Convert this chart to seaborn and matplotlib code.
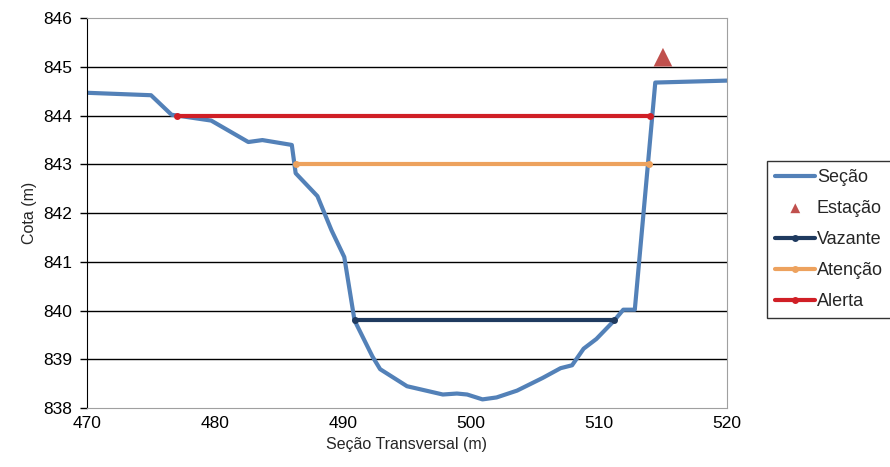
import numpy as np
import pandas as pd
import matplotlib
matplotlib.use("Agg")
import matplotlib.pyplot as plt
import seaborn as sns

# Perfil da seção transversal
secao_x = [470, 475, 476.6, 479.7, 482.6, 483.7, 486.0, 486.3, 488.0, 489.1, 490.1,
           490.9, 492.3, 492.9, 495.0, 497.8, 498.9, 499.7, 500.9, 502.0, 503.6,
           505.6, 507.0, 507.9, 508.8, 509.8, 511.2, 511.9, 512.8, 514.4, 520]
secao_y = [844.47, 844.42, 844.02, 843.9, 843.46, 843.5, 843.4, 842.82, 842.35, 841.65, 841.1,
           839.8, 839.06, 838.8, 838.45, 838.28, 838.3, 838.28, 838.18, 838.22, 838.36,
           838.62, 838.82, 838.88, 839.22, 839.42, 839.8, 840.02, 840.02, 844.68, 844.72]

estacao_x = [515]
estacao_y = [845.2]

vazante_x = [490.9, 511.2]
vazante_y = [839.8, 839.8]
atencao_x = [486.3, 513.9]
atencao_y = [843.0, 843.0]
alerta_x = [477.0, 514.0]
alerta_y = [844.0, 844.0]

sns.set_style("white")
plt.rcParams['font.family'] = ['Liberation Sans', 'DejaVu Sans']

fig = plt.figure(figsize=(8.9, 4.67), dpi=100)
ax = fig.add_axes([0.0978, 0.126, 0.719, 0.835])

for v in range(839, 846):
    ax.axhline(v, color="black", lw=1.0, zorder=0)

sns.lineplot(x=secao_x, y=secao_y, ax=ax, color="#5381B8", lw=3, label="Seção",
             sort=False, zorder=2)
sns.scatterplot(x=estacao_x, y=estacao_y, ax=ax, color="#C0504D", marker="^", s=180,
                label="Estação", zorder=3, edgecolor="none")
sns.lineplot(x=vazante_x, y=vazante_y, ax=ax, color="#1F3A5F", lw=3, marker="o", ms=5,
             markeredgewidth=0, label="Vazante", zorder=3)
sns.lineplot(x=atencao_x, y=atencao_y, ax=ax, color="#EDA25E", lw=3, marker="o", ms=5,
             markeredgewidth=0, label="Atenção", zorder=3)
sns.lineplot(x=alerta_x, y=alerta_y, ax=ax, color="#D01F26", lw=3, marker="o", ms=5,
             markeredgewidth=0, label="Alerta", zorder=3)

ax.set_xlim(470, 520)
ax.set_ylim(838, 846)
ax.set_xticks(np.arange(470, 521, 10))
ax.set_yticks(np.arange(838, 847, 1))
ax.tick_params(axis="both", labelsize=12.5, colors="black", length=0, pad=6)
ax.tick_params(axis="y", length=5, direction="out", left=True, width=1)
ax.set_xlabel("Seção Transversal (m)", fontsize=11.5)
ax.set_ylabel("Cota (m)", fontsize=11.5, labelpad=4)

for s in ["top", "right", "bottom"]:
    ax.spines[s].set_color("#A0A0A0")
ax.spines["left"].set_color("black")

leg = ax.legend(loc="upper left", bbox_to_anchor=(0.852, 0.675),
                bbox_transform=fig.transFigure, fontsize=13, frameon=True,
                fancybox=False, edgecolor="black", handlelength=2.2,
                handletextpad=0.1, borderpad=0.45, labelspacing=0.78)
leg.get_frame().set_linewidth(1.0)
leg.legend_handles[1].set_sizes([50])

fig.savefig("out.png", dpi=100)
